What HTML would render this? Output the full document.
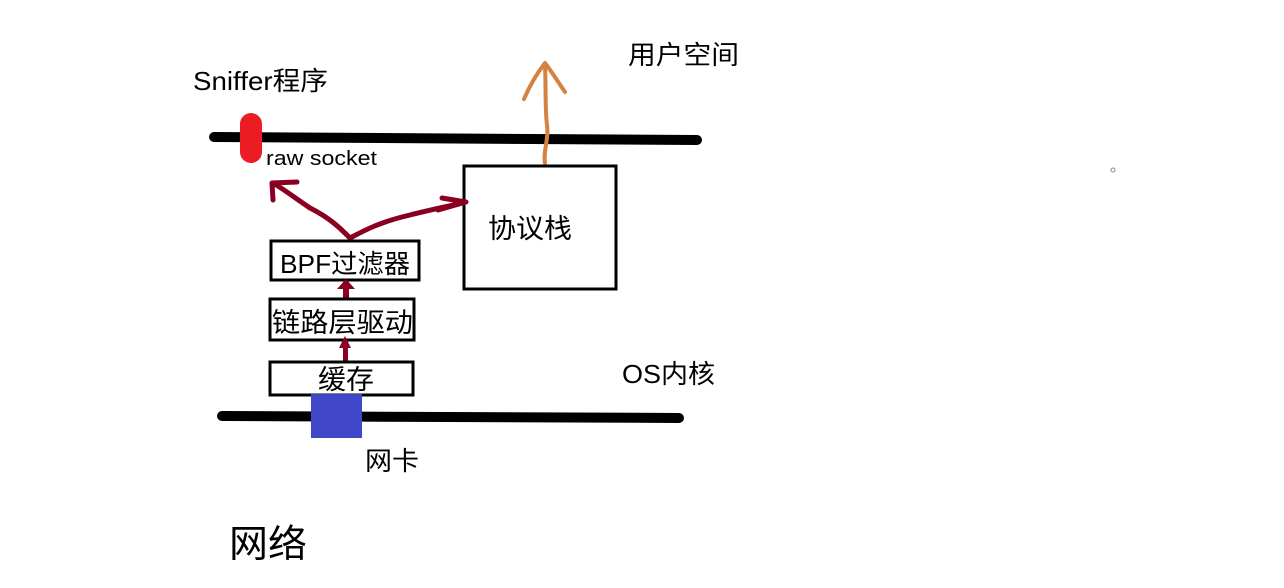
<!DOCTYPE html>
<html><head><meta charset="utf-8"><style>
html,body{margin:0;padding:0;background:#fff;width:1284px;height:588px;overflow:hidden}
svg text{font-family:"Liberation Sans","Noto Sans CJK SC",sans-serif;fill:#000}
</style></head><body>
<svg width="1284" height="588" viewBox="0 0 1284 588" xmlns="http://www.w3.org/2000/svg">
<line x1="214" y1="137" x2="697" y2="140" stroke="#000" stroke-width="10" stroke-linecap="round"/>
<rect x="240" y="113" width="22" height="50" rx="11" fill="#ec1c24"/>
<text x="193" y="90" font-size="26" textLength="135" lengthAdjust="spacingAndGlyphs">Sniffer程序</text>
<text x="266" y="165" font-size="20" textLength="111" lengthAdjust="spacingAndGlyphs">raw socket</text>
<text x="628" y="64" font-size="26" textLength="111" lengthAdjust="spacingAndGlyphs">用户空间</text>
<path d="M545,163 C543,150 549,140 547,125 C545,110 546,90 545,64 M524,99 C530,85 538,72 545,63 C552,72 558,82 565,92" fill="none" stroke="#d4823f" stroke-width="4" stroke-linecap="round" stroke-linejoin="round"/>
<rect x="464" y="166" width="152" height="123" fill="none" stroke="#000" stroke-width="3"/>
<text x="488" y="238" font-size="27" textLength="84" lengthAdjust="spacingAndGlyphs">协议栈</text>
<path d="M350,238 C340,228 330,218 310,208 C295,198 285,190 273,183 M273,200 L272,183 L297,182 M350,238 C365,230 380,222 410,215 C430,210 445,207 466,202 M438,210 L466,202 L442,198" fill="none" stroke="#8b0020" stroke-width="5" stroke-linecap="round" stroke-linejoin="round"/>
<rect x="271" y="241" width="148" height="39" fill="none" stroke="#000" stroke-width="3"/>
<text x="280" y="273" font-size="26" textLength="130" lengthAdjust="spacingAndGlyphs">BPF过滤器</text>
<path d="M343,298 L343,289 L337,289 L346,279 L355,289 L349,289 L349,298 Z" fill="#8b0020"/>
<rect x="270" y="299" width="144" height="41" fill="none" stroke="#000" stroke-width="3"/>
<text x="272" y="332" font-size="27" textLength="141" lengthAdjust="spacingAndGlyphs">链路层驱动</text>
<path d="M343,361 L343,348 L339,348 L345,336 L351,348 L348,348 L348,361 Z" fill="#8b0020"/>
<rect x="270" y="362" width="143" height="33" fill="none" stroke="#000" stroke-width="3"/>
<text x="318" y="389" font-size="27" textLength="56" lengthAdjust="spacingAndGlyphs">缓存</text>
<line x1="222" y1="416" x2="679" y2="418" stroke="#000" stroke-width="10" stroke-linecap="round"/>
<rect x="311" y="394" width="51" height="44" fill="#4048c8"/>
<text x="365" y="470" font-size="26" textLength="54" lengthAdjust="spacingAndGlyphs">网卡</text>
<text x="622" y="383" font-size="26" textLength="93" lengthAdjust="spacingAndGlyphs">OS内核</text>
<text x="229" y="557" font-size="38" textLength="78" lengthAdjust="spacingAndGlyphs">网络</text>
<circle cx="1113" cy="170" r="2" fill="none" stroke="#888" stroke-width="1"/>
</svg>
</body></html>
